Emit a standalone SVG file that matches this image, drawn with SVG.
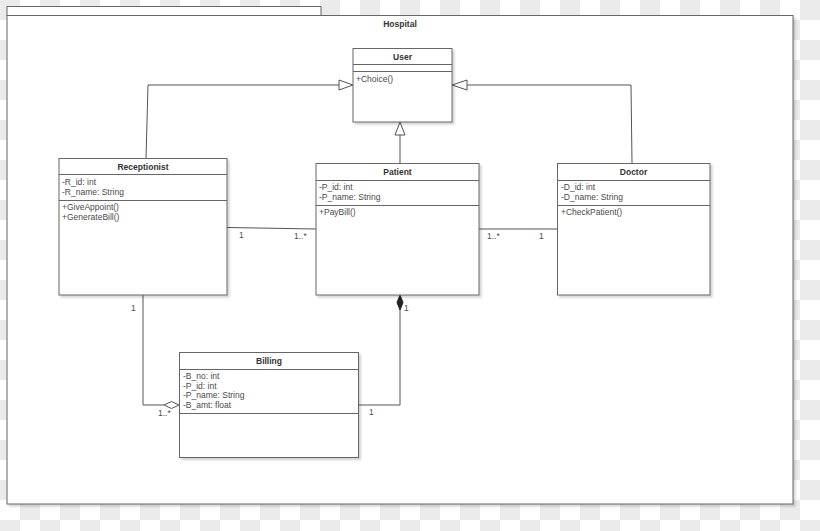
<svg xmlns="http://www.w3.org/2000/svg" width="820" height="531" viewBox="0 0 820 531">
<defs>
<pattern id="checker" width="40" height="40" patternUnits="userSpaceOnUse">
<rect x="0" y="0" width="40" height="40" fill="#ffffff"/>
<rect x="0" y="0" width="20" height="20" fill="#ebebeb"/>
<rect x="20" y="20" width="20" height="20" fill="#ebebeb"/>
</pattern>
<filter id="sh" x="-5%" y="-5%" width="115%" height="115%">
<feDropShadow dx="2" dy="2" stdDeviation="1.2" flood-color="#000" flood-opacity="0.18"/>
</filter>
</defs>
<style>
.box{fill:#ffffff;stroke:#666666;stroke-width:1}
.div{stroke:#666666;stroke-width:1}
.title{font-family:"Liberation Sans",Arial,sans-serif;font-size:8.5px;font-weight:bold;fill:#333333;text-anchor:middle}
.txt{font-family:"Liberation Sans",Arial,sans-serif;font-size:8.5px;fill:#4a4a4a}
.edge{fill:none;stroke:#555555;stroke-width:1}
.hollow{fill:#ffffff;stroke:#555555;stroke-width:1}
.solid{fill:#222222;stroke:#222222;stroke-width:1}
</style>
<rect x="0" y="0" width="820" height="531" fill="url(#checker)"/>

<g id="hospital">
<rect x="7" y="6.5" width="314" height="9" class="box"/>
<rect x="7" y="15.5" width="786" height="488.5" class="box" filter="url(#sh)"/>
<text x="400" y="27" class="title">Hospital</text>
</g>

<g id="connectors">
<polyline points="146,158.5 148,85 339,85" class="edge"/>
<polygon points="339,80 353,85 339,90" class="hollow"/>
<polyline points="632,163.5 631,85 467,85" class="edge"/>
<polygon points="467,80 452,85 467,90" class="hollow"/>
<line x1="400" y1="163.5" x2="400" y2="135" class="edge"/>
<polygon points="395,135 400,122 405,135" class="hollow"/>
<line x1="227" y1="227.5" x2="316" y2="229" class="edge"/>
<line x1="479" y1="229" x2="557.5" y2="229" class="edge"/>
<polyline points="143,295 143,405 164,405" class="edge"/>
<polygon points="164,405 171.5,401.5 179,405 171.5,408.5" class="hollow"/>
<polyline points="358.5,405 400,405 400,310" class="edge"/>
<polygon points="400,295 403,302.5 400,310 397,302.5" class="solid"/>
<text x="239" y="237.5" class="txt">1</text>
<text x="294" y="238.5" class="txt">1..*</text>
<text x="487" y="239" class="txt">1..*</text>
<text x="539" y="239" class="txt">1</text>
<text x="131" y="311" class="txt">1</text>
<text x="158" y="416" class="txt">1..*</text>
<text x="404" y="311" class="txt">1</text>
<text x="369" y="415" class="txt">1</text>
</g>

<g id="user">
<rect x="353" y="48.5" width="99" height="73.5" class="box" filter="url(#sh)"/>
<line x1="353" y1="64.5" x2="452" y2="64.5" class="div"/>
<line x1="353" y1="71.5" x2="452" y2="71.5" class="div"/>
<text x="402.5" y="60" class="title">User</text>
<text x="356" y="81.5" class="txt">+Choice()</text>
</g>

<g id="receptionist">
<rect x="59" y="158.5" width="168" height="136.5" class="box" filter="url(#sh)"/>
<line x1="59" y1="174.5" x2="227" y2="174.5" class="div"/>
<line x1="59" y1="200.5" x2="227" y2="200.5" class="div"/>
<text x="143" y="169.5" class="title">Receptionist</text>
<text x="62" y="185" class="txt">-R_id: int</text>
<text x="62" y="194.5" class="txt">-R_name: String</text>
<text x="62" y="210" class="txt">+GiveAppoint()</text>
<text x="62" y="219.5" class="txt">+GenerateBill()</text>
</g>

<g id="patient">
<rect x="316" y="163.5" width="163" height="131.5" class="box" filter="url(#sh)"/>
<line x1="316" y1="180.5" x2="479" y2="180.5" class="div"/>
<line x1="316" y1="205.5" x2="479" y2="205.5" class="div"/>
<text x="397.5" y="175" class="title">Patient</text>
<text x="319" y="189.5" class="txt">-P_id: int</text>
<text x="319" y="199.5" class="txt">-P_name: String</text>
<text x="319" y="214.5" class="txt">+PayBill()</text>
</g>

<g id="doctor">
<rect x="557.5" y="163.5" width="152.5" height="131.5" class="box" filter="url(#sh)"/>
<line x1="557.5" y1="180.5" x2="710" y2="180.5" class="div"/>
<line x1="557.5" y1="205.5" x2="710" y2="205.5" class="div"/>
<text x="633.5" y="175" class="title">Doctor</text>
<text x="561" y="189.5" class="txt">-D_id: int</text>
<text x="561" y="199.5" class="txt">-D_name: String</text>
<text x="561" y="214.5" class="txt">+CheckPatient()</text>
</g>

<g id="billing">
<rect x="179.5" y="352.5" width="179" height="105" class="box" filter="url(#sh)"/>
<line x1="179.5" y1="369.5" x2="358.5" y2="369.5" class="div"/>
<line x1="179.5" y1="413.5" x2="358.5" y2="413.5" class="div"/>
<text x="269" y="364" class="title">Billing</text>
<text x="183" y="379" class="txt">-B_no: int</text>
<text x="183" y="388.7" class="txt">-P_id: int</text>
<text x="183" y="398.4" class="txt">-P_name: String</text>
<text x="183" y="408" class="txt">-B_amt: float</text>
</g>
</svg>
